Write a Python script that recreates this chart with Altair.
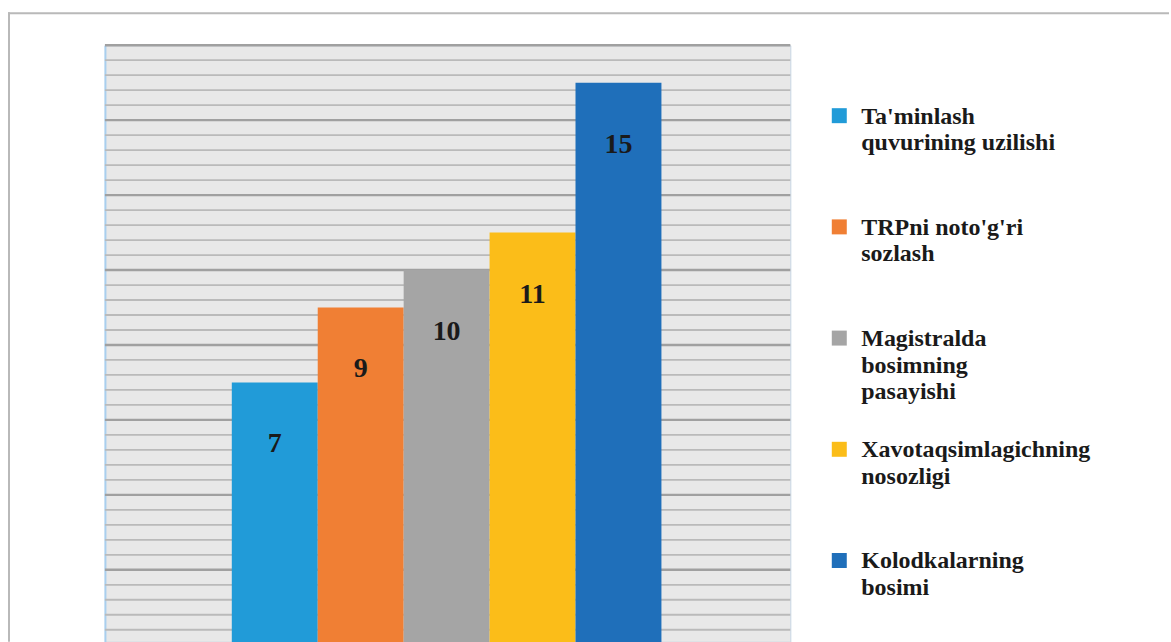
import altair as alt
import pandas as pd

# ---- data ----
categories = [
    "Ta'minlash\nquvurining uzilishi",
    "TRPni noto'g'ri\nsozlash",
    "Magistralda\nbosimning\npasayishi",
    "Xavotaqsimlagichning\nnosozligi",
    "Kolodkalarning\nbosimi",
]
values = [7, 9, 10, 11, 15]
colors = ["#219bd8", "#f07f34", "#a5a5a5", "#fbbd19", "#1f6fba"]

y_max = 16
grid_step = 0.4
major_step = 2

df = pd.DataFrame({"category": categories, "value": values})
grid_values = [round(k * grid_step, 1) for k in range(1, int(round(y_max / grid_step)) + 1)]
grid_df = pd.DataFrame({"v": grid_values, "major": [v % major_step == 0 for v in grid_values]})

serif = "Liberation Serif"
W, H = 686, 597

xscale = alt.Scale(domain=categories, paddingInner=0, paddingOuter=0, range=[127, 557])
yscale = alt.Scale(domain=[0.08, y_max], nice=False, zero=False)
cscale = alt.Scale(domain=categories, range=colors)

yaxis = alt.Axis(
    labels=False,
    ticks=False,
    title="",
    domain=True,
    domainColor="#a9cfee",
    domainWidth=2,
    grid=False,
)

grid = alt.Chart(grid_df).mark_rule().encode(
    x=alt.value(0),
    x2=alt.value(W),
    y=alt.Y("v:Q", scale=yscale, axis=yaxis),
    color=alt.condition("datum.major", alt.value("#a0a0a0"), alt.value("#bababa")),
    strokeWidth=alt.condition("datum.major", alt.value(2.4), alt.value(1.8)),
)

base = alt.Chart(df)
bars = base.mark_bar().encode(
    x=alt.X("category:N", scale=xscale, axis=None, sort=categories),
    y=alt.Y("value:Q", scale=yscale),
    color=alt.Color("category:N", scale=cscale, legend=None),
)
labels = base.mark_text(
    baseline="middle", dy=62, font=serif, fontWeight="bold", fontSize=28, color="#1a1a1a"
).encode(
    x=alt.X("category:N", scale=xscale, axis=None, sort=categories),
    y=alt.Y("value:Q", scale=yscale),
    text="value:Q",
)

frame_df = pd.DataFrame({"k": [0]})
frame_top = alt.Chart(frame_df).mark_rule(color="#b9b9b9", strokeWidth=2).encode(
    x=alt.value(-97), x2=alt.value(1065), y=alt.value(-32)
)
frame_left = alt.Chart(frame_df).mark_rule(color="#b9b9b9", strokeWidth=2).encode(
    x=alt.value(-96), y=alt.value(-33), y2=alt.value(H)
)

plot = alt.layer(grid, bars, labels, frame_top, frame_left).properties(
    width=W,
    height=H,
    view=alt.ViewBackground(fill="#e8e8e8", stroke="#c8d6e4", strokeWidth=1),
)

leg_df = pd.DataFrame({"category": categories})
leg_y = alt.Scale(type="point", domain=categories, range=[70.5, 515.7], padding=0)
squares = alt.Chart(leg_df).mark_square(size=225, opacity=1).encode(
    x=alt.value(49),
    y=alt.Y("category:N", scale=leg_y, axis=None, sort=categories),
    color=alt.Color("category:N", scale=cscale, legend=None),
)
texts = alt.Chart(leg_df).mark_text(
    align="left",
    baseline="alphabetic",
    dy=8,
    lineBreak="\n",
    lineHeight=26.5,
    font=serif,
    fontSize=24,
    fontWeight="bold",
    color="#1a1a1a",
).encode(
    x=alt.value(71),
    y=alt.Y("category:N", scale=leg_y, axis=None, sort=categories),
    text="category:N",
)
legend = alt.layer(squares, texts).properties(
    width=1171 - 105 - W, height=H, view=alt.ViewBackground(stroke="transparent")
)

chart = alt.hconcat(plot, legend, spacing=0, bounds="flush").properties(
    padding={"left": 6, "top": 10, "right": 0, "bottom": 0},
    background="white",
)

chart.save("out.html", embed_options={"renderer": "svg", "actions": False})
